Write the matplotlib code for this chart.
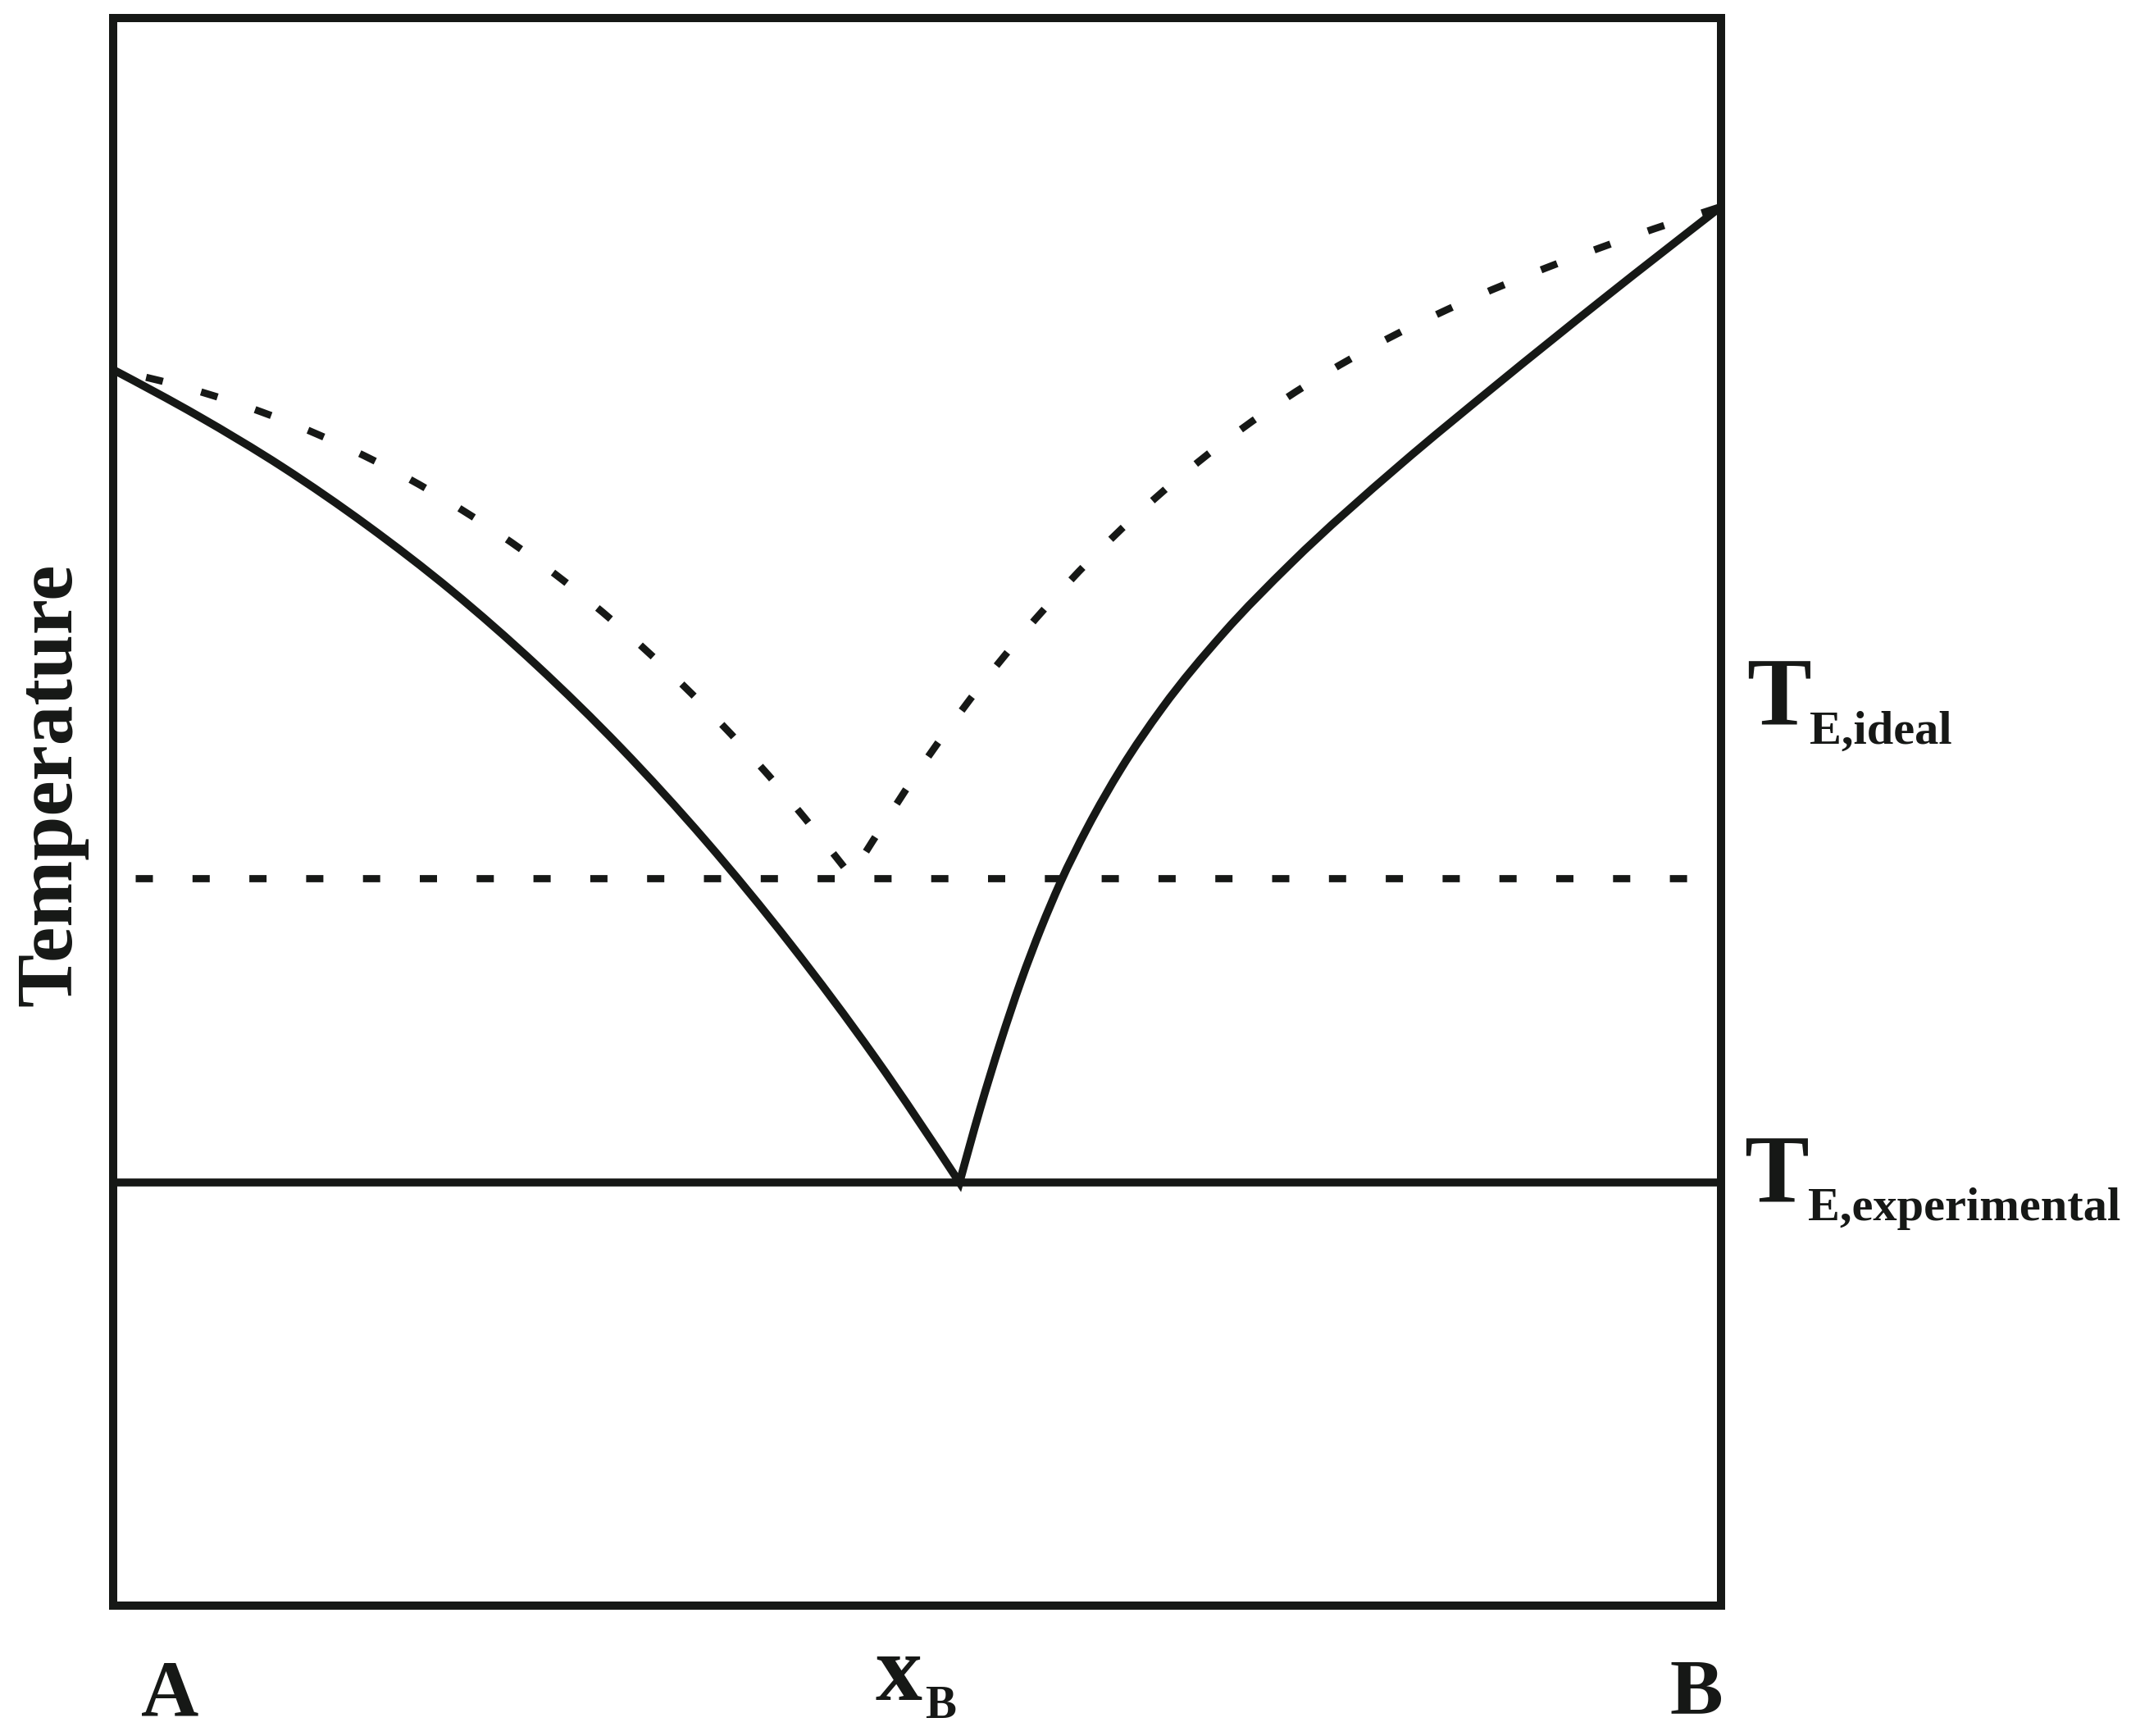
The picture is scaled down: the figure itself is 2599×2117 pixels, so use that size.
import numpy as np
import matplotlib
matplotlib.use("Agg")
import matplotlib.pyplot as plt
from matplotlib.path import Path
import matplotlib.patches as mpatches

# eutectic phase diagram A-B, composition x_B (0..1), temperature in arbitrary units
T_eut_exp = 26.65
T_eut_ideal = 45.83

# experimental liquidus, A side
liq_A_x = [0.0, 0.0526, 0.1053, 0.1579, 0.2106, 0.2632, 0.3158, 0.3685, 0.4211, 0.4738, 0.5264]
liq_A_T = [77.85, 74.95, 71.72, 68.05, 63.92, 59.25, 54.03, 48.18, 41.69, 34.53, 26.65]

# experimental liquidus, B side
liq_B_x = [0.5264, 0.5391, 0.5518, 0.5644, 0.5771, 0.5889, 0.6059, 0.6270, 0.6523, 0.6904,
           0.7326, 0.8003, 0.8594, 0.9271, 1.0]
liq_B_T = [26.65, 31.26, 35.47, 39.28, 42.68, 45.50, 49.00, 52.74, 56.52, 61.24,
           65.66, 71.85, 76.82, 82.34, 88.12]

# ideal liquidus (dashed), A side
ideal_A_x = [0.0, 0.0472, 0.0930, 0.1387, 0.1844, 0.2302, 0.2759, 0.3216, 0.3674, 0.4131, 0.4588]
ideal_A_T = [77.85, 76.67, 75.16, 73.26, 70.95, 68.16, 64.89, 61.07, 56.67, 51.66, 45.98]

# ideal liquidus (dashed), B side
ideal_B_x = [0.4588, 0.5128, 0.5668, 0.6208, 0.6749, 0.7289, 0.7829, 0.8369, 0.8909, 0.9449, 1.0]
ideal_B_T = [45.98, 54.32, 61.34, 67.20, 72.04, 76.02, 79.28, 81.97, 84.25, 86.25, 88.12]

ink = '#161816'
W, H = 2599, 2117


def smooth_branch(xs, ys):
    # cubic hermite through the read points (slopes from neighbours), as bezier pieces
    x = np.asarray(xs, float)
    y = np.asarray(ys, float)
    h = np.diff(x)
    d = np.diff(y) / h
    m = np.empty_like(x)
    m[1:-1] = (h[:-1] * d[1:] + h[1:] * d[:-1]) / (h[:-1] + h[1:])
    m[0] = 1.5 * d[0] - 0.5 * m[1]
    m[-1] = 1.5 * d[-1] - 0.5 * m[-2]
    verts, codes = [], []
    for i in range(len(h)):
        verts += [(x[i] + h[i] / 3, y[i] + m[i] * h[i] / 3),
                  (x[i + 1] - h[i] / 3, y[i + 1] - m[i + 1] * h[i] / 3),
                  (x[i + 1], y[i + 1])]
        codes += [Path.CURVE4] * 3
    return verts, codes


def curve_path(*branches):
    verts = [(branches[0][0][0], branches[0][1][0])]
    codes = [Path.MOVETO]
    for xs, ys in branches:
        v, c = smooth_branch(xs, ys)
        verts += v
        codes += c
    return Path(verts, codes)


fig = plt.figure(figsize=(W / 100, H / 100), dpi=100)
ax = fig.add_axes([138 / W, 1 - 1958 / H, (2099 - 138) / W, (1958 - 22) / H])
ax.set_xlim(0, 1)
ax.set_ylim(0, 100)
ax.set_xticks([])
ax.set_yticks([])
for sp in ax.spines.values():
    sp.set_linewidth(7.2)
    sp.set_color(ink)

# solid experimental liquidus, one path so the eutectic gets a sharp tip
liq = mpatches.PathPatch(curve_path((liq_A_x, liq_A_T), (liq_B_x, liq_B_T)),
                         fill=False, edgecolor=ink, lw=7.0, joinstyle='miter', capstyle='butt')
ax.add_patch(liq)
ax.plot([0, 1], [T_eut_exp, T_eut_exp], color=ink, lw=7.0, solid_capstyle='butt')

# ideal curves
dash = (2.4, 5.52)
ideal = mpatches.PathPatch(curve_path((ideal_A_x, ideal_A_T), (ideal_B_x, ideal_B_T)),
                           fill=False, edgecolor=ink, lw=6.3, linestyle=(3.2, dash),
                           capstyle='butt')
ax.add_patch(ideal)
ax.plot([0.014, 0.9905], [T_eut_ideal, T_eut_ideal], color=ink, lw=6.3,
        linestyle=(0, dash), dash_capstyle='butt')

serif = 'Liberation Serif'
def ftxt(px, py, s, size, **kw):
    fig.text(px / W, 1 - py / H, s, fontsize=size, family=serif, weight='bold',
             color=ink, **kw)

ftxt(63, 957, 'Temperature', 70, rotation=90, ha='center', va='center')
ftxt(207, 2092, 'A', 70, ha='center', va='baseline')
ftxt(2069, 2090, 'B', 70, ha='center', va='baseline')
ftxt(1068, 2073, 'x', 82, ha='left', va='baseline')
ftxt(1128, 2095, 'B', 41, ha='left', va='baseline')

ftxt(2130, 884, 'T', 85, ha='left', va='baseline')
ftxt(2207, 907, 'E,ideal', 42, ha='left', va='baseline')
ftxt(2127, 1466, 'T', 85, ha='left', va='baseline')
ftxt(2205, 1488, 'E,experimental', 42, ha='left', va='baseline')

fig.savefig('out.png', dpi=100, facecolor='white')
